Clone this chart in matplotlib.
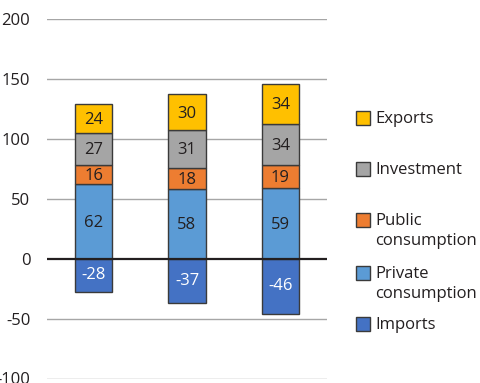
import matplotlib
matplotlib.use("Agg")
import matplotlib.pyplot as plt
from matplotlib.patches import Rectangle
import numpy as np

plt.rcParams['font.family'] = ['Open Sans', 'DejaVu Sans']

groups = ["A", "B", "C"]
imports = [-28, -37, -46]
private_cons = [62, 58, 59]
public_cons = [16, 18, 19]
investment = [27, 31, 34]
exports = [24, 30, 34]

series = [
    ("Private\nconsumption", private_cons, "#5B9BD5"),
    ("Public\nconsumption", public_cons, "#ED7D31"),
    ("Investment", investment, "#A5A5A5"),
    ("Exports", exports, "#FFC000"),
]
imports_color = "#4472C4"
edge = "#3a3a3a"
text_dark = "#231F20"

y_ticks = [-100, -50, 0, 50, 100, 150, 200]

fig = plt.figure(figsize=(4.8, 3.83), dpi=100)
ax = fig.add_axes([47/480, 1 - 378.5/383, 280/480, 359.5/383])

x = np.arange(len(groups))
width = 0.4
fs = 12

for yv in y_ticks:
    if yv == 0:
        continue
    ax.axhline(yv, color="#a6a6a6", lw=1.0, zorder=0)

# positive stack
bottom = np.zeros(len(groups))
for name, vals, col in series:
    vals = np.array(vals, dtype=float)
    ax.bar(x, vals, width, bottom=bottom, color=col, edgecolor=edge, lw=1.0, zorder=2)
    for xi, b, v in zip(x, bottom, vals):
        ax.text(xi, b + v / 2 - 1, f"{int(v)}", ha="center", va="center",
                fontsize=fs, color=text_dark, zorder=3)
    bottom += vals

# negative imports
imp = np.array(imports, dtype=float)
ax.bar(x, imp, width, color=imports_color, edgecolor=edge, lw=1.0, zorder=2)
for xi, v in zip(x, imp):
    ax.text(xi, v / 2, f"{int(v)}", ha="center", va="center",
            fontsize=fs, color="white", zorder=3)

ax.axhline(0, color="#231F20", lw=1.6, zorder=4)

ax.set_xlim(-0.5, len(groups) - 0.5)
ax.set_ylim(-100, 200)
ax.set_yticks(y_ticks)
ax.set_yticklabels([str(t) for t in y_ticks], fontsize=fs, color=text_dark)
ax.tick_params(axis="y", length=0, pad=12)
ax.set_xticks([])
for s in ax.spines.values():
    s.set_visible(False)
ax.patch.set_alpha(0)

# legend drawn in figure pixels
legend_items = [
    ("Exports", "#FFC000", 118),
    ("Investment", "#A5A5A5", 168.5),
    ("Public\nconsumption", "#ED7D31", 220),
    ("Private\nconsumption", "#5B9BD5", 273),
    ("Imports", imports_color, 324),
]
W, H = 480, 383
for label, col, yc in legend_items:
    fig.patches.append(Rectangle((355.5 / W, 1 - (yc + 7) / H), 14.5 / W, 14 / H,
                                 transform=fig.transFigure, facecolor=col,
                                 edgecolor=edge, lw=1.0))
    fig.text(375 / W, 1 - (yc - 7) / H, label, ha="left", va="top",
             fontsize=fs, color=text_dark, linespacing=1.35)

fig.savefig("out.png", dpi=100)
